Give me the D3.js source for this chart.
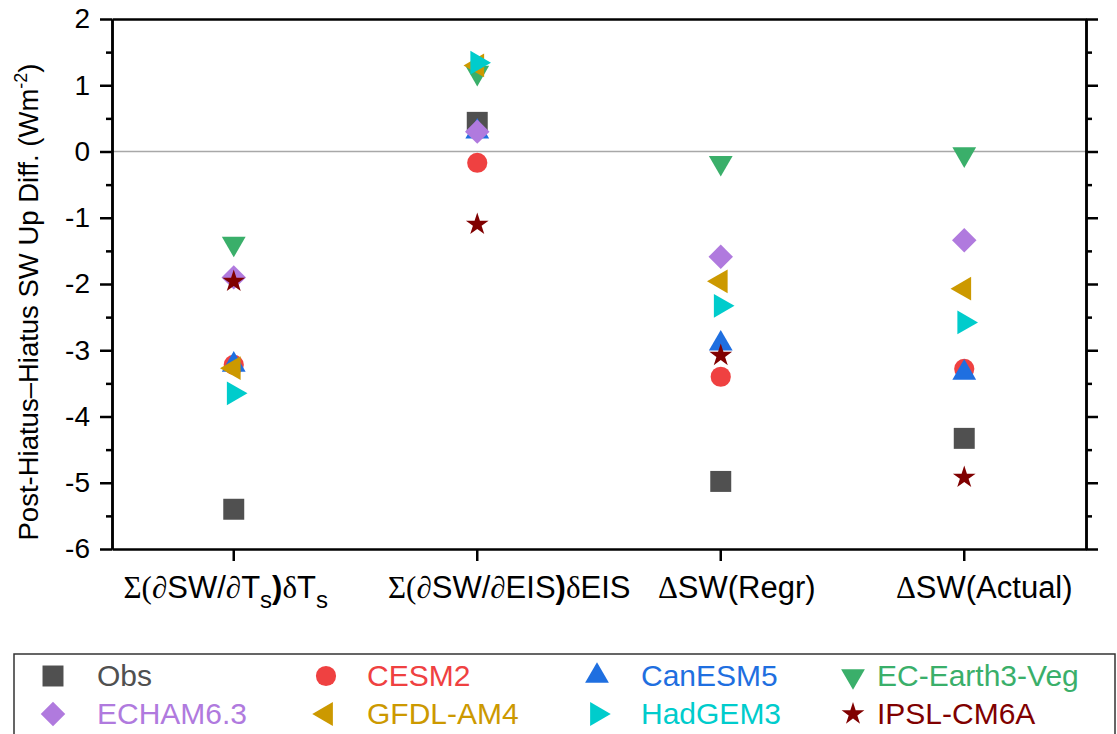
<!DOCTYPE html>
<html><head><meta charset="utf-8">
<script src="https://cdn.jsdelivr.net/npm/d3@7"></script>
<style>body{margin:0;background:#fff}svg{display:block}</style>
</head><body><svg id="c" width="1117" height="734"></svg>
<script>
const categories = ["sumTs", "sumEIS", "regr", "actual"];
const seriesNames = ["Obs","CESM2","CanESM5","EC-Earth3-Veg","ECHAM6.3","GFDL-AM4","HadGEM3","IPSL-CM6A"];
const obs      = [-5.40, 0.44, -4.98, -4.33];
const cesm2    = [-3.22, -0.17, -3.40, -3.28];
const canesm5  = [-3.22, 0.30, -2.90, -3.34];
const ecearth  = [-1.39, 1.19, -0.17, -0.04];
const echam    = [-1.90, 0.30, -1.59, -1.34];
const gfdl     = [-3.27, 1.30, -1.96, -2.07];
const hadgem3  = [-3.65, 1.34, -2.33, -2.58];
const ipsl     = [-1.96, -1.10, -3.08, -4.92];
const yTicks = [2, 1, 0, -1, -2, -3, -4, -5, -6];
const yTickLabels = ["2", "1", "0", "-1", "-2", "-3", "-4", "-5", "-6"];

const seriesValues = [obs, cesm2, canesm5, ecearth, echam, gfdl, hadgem3, ipsl];
const colors = ["#505050","#ef4141","#1f6fe0","#3aaf6a","#b07ade","#cc9900","#00cccc","#800000"];
const shapes = [
  {t:d3.symbolSquare, s:440, r:0},
  {t:d3.symbolCircle, s:320, r:0},
  {t:d3.symbolTriangle, s:245, r:0},
  {t:d3.symbolTriangle, s:245, r:180},
  {t:d3.symbolSquare, s:300, r:45},
  {t:d3.symbolTriangle, s:245, r:-90},
  {t:d3.symbolTriangle, s:245, r:90},
  {t:d3.symbolStar, s:160, r:0}
];

const svg = d3.select("#c");
const L = 112, R = 1086, T = 19, B = 549;
const x = d3.scaleBand().domain(categories).range([L, R]).padding(0);
const cx = c => x(c) + x.bandwidth()/2;
const y = d3.scaleLinear().domain([-6, 2]).range([B, T]);
const FONT = "'Liberation Sans', Arial, sans-serif";
const SERIF = "'Liberation Serif', 'Times New Roman', serif";

svg.append("line").attr("x1", L).attr("x2", R).attr("y1", y(0)).attr("y2", y(0))
  .attr("stroke", "#a8a8a8").attr("stroke-width", 1.5);

const minor = d3.range(-5.5, 2, 1);
const axL = svg.append("g").attr("transform", `translate(${L},0)`)
  .call(d3.axisLeft(y).tickValues(yTicks).tickSize(12).tickPadding(10).tickSizeOuter(0)
    .tickFormat((d, i) => yTickLabels[i]));
axL.selectAll("text").attr("font-family", FONT).attr("font-size", 28).attr("fill", "#000");
svg.append("g").attr("transform", `translate(${L},0)`)
  .call(d3.axisLeft(y).tickValues(minor).tickSize(6).tickFormat("").tickSizeOuter(0));
svg.append("g").attr("transform", `translate(${R},0)`)
  .call(d3.axisRight(y).tickValues(yTicks).tickSize(12).tickFormat("").tickSizeOuter(0));
svg.append("g").attr("transform", `translate(${R},0)`)
  .call(d3.axisRight(y).tickValues(minor).tickSize(6).tickFormat("").tickSizeOuter(0));
svg.append("g").attr("transform", `translate(0,${B})`)
  .call(d3.axisBottom(x).tickSize(12).tickFormat("").tickSizeOuter(0));
svg.append("g").attr("transform", `translate(0,${T})`)
  .call(d3.axisTop(x).tickSize(0).tickFormat("").tickSizeOuter(0));
svg.selectAll(".domain").attr("stroke", "#000").attr("stroke-width", 2.5);
svg.selectAll(".tick line").attr("stroke", "#000").attr("stroke-width", 2.5);

const labelDx = [-8, 32, 16, 20];
const labelParts = [
  [["Σ(∂", SERIF], ["SW/", FONT], ["∂", SERIF], ["T", FONT], ["s", FONT, "sub"], [")", FONT, "b"], ["δ", SERIF], ["T", FONT], ["s", FONT, "sub"]],
  [["Σ(∂", SERIF], ["SW/", FONT], ["∂", SERIF], ["EIS", FONT], [")", FONT, "b"], ["δ", SERIF], ["EIS", FONT]],
  [["Δ", SERIF], ["SW(Regr)", FONT]],
  [["Δ", SERIF], ["SW(Actual)", FONT]]
];
categories.forEach((c, i) => {
  const t = svg.append("text").attr("x", cx(c) + labelDx[i]).attr("y", 598)
    .attr("text-anchor", "middle").attr("font-size", 31).attr("fill", "#000");
  let shifted = false;
  labelParts[i].forEach(p => {
    const ts = t.append("tspan").text(p[0]).attr("font-family", p[1]);
    if (p[2] === "sub") { ts.attr("dy", 10).attr("font-size", 24); shifted = true; }
    else if (shifted) { ts.attr("dy", -10); shifted = false; }
    if (p[2] === "b") ts.attr("font-weight", "bold");
  });
});

const yt = svg.append("text").attr("transform", `translate(38,${(T+B)/2+18}) rotate(-90)`)
  .attr("text-anchor", "middle").attr("font-family", FONT).attr("font-size", 27.5).attr("fill", "#000");
yt.append("tspan").text("Post-Hiatus–Hiatus SW Up Diff. (Wm");
yt.append("tspan").text("-2").attr("font-size", 18).attr("dy", -11);
yt.append("tspan").text(")").attr("dy", 11);

const sym = d3.symbol();
seriesValues.forEach((vals, si) => {
  const sh = shapes[si];
  svg.append("g").selectAll("path").data(vals).join("path")
    .attr("d", sym.type(sh.t).size(sh.s)())
    .attr("transform", (d, i) => `translate(${cx(categories[i])},${y(d)}) rotate(${sh.r})`)
    .attr("fill", colors[si]);
});

svg.append("rect").attr("x", 14).attr("y", 654).attr("width", 1101).attr("height", 100)
  .attr("fill", "none").attr("stroke", "#333").attr("stroke-width", 1.5);
const colMarkerX = [53, 326, 597, 853];
const colTextX = [97, 367, 641, 877];
const rowY = [676, 714];
seriesNames.forEach((name, si) => {
  const col = si % 4, row = Math.floor(si / 4);
  const sh = shapes[si];
  svg.append("path").attr("d", sym.type(sh.t).size(sh.s)())
    .attr("transform", `translate(${colMarkerX[col]},${rowY[row]}) rotate(${sh.r})`)
    .attr("fill", colors[si]);
  svg.append("text").attr("x", colTextX[col]).attr("y", rowY[row] + 10)
    .attr("font-family", FONT).attr("font-size", 30).attr("fill", si === 0 ? "#505050" : colors[si]).text(name);
});
</script></body></html>
